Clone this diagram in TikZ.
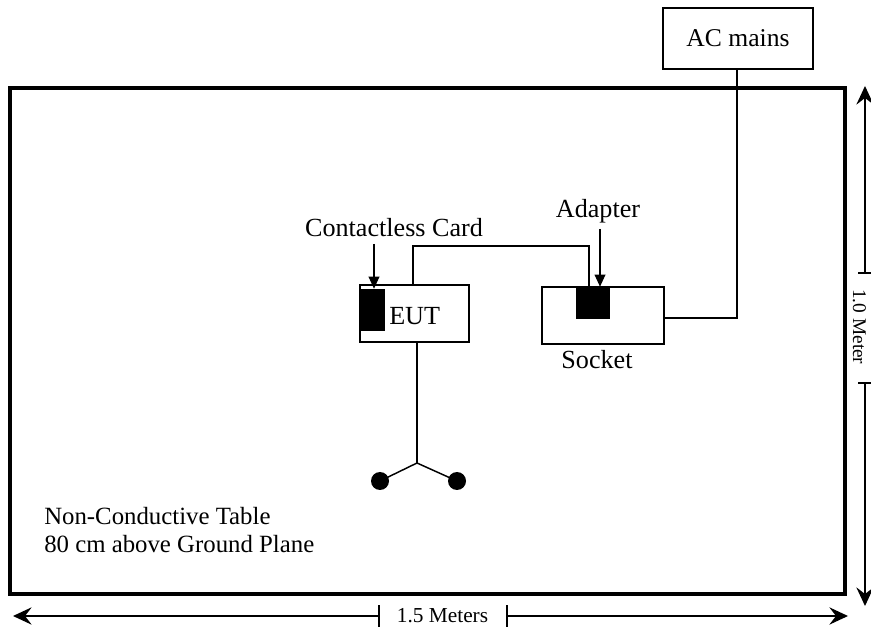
\documentclass[tikz,border=0pt]{standalone}
\usepackage{fontspec}
\setmainfont{Liberation Serif}
\usetikzlibrary{arrows.meta}
\begin{document}
\begin{tikzpicture}[x=0.75pt,y=-0.75pt,
  box/.style={draw,line width=1.2pt,inner sep=0pt},
  wire/.style={line width=1.1pt},
  blk/.style={fill=black,draw=none,inner sep=0pt},
  lbl/.style={font=\fontsize{18.6}{21}\selectfont,inner sep=0pt},
  big/.style={font=\fontsize{19.6}{22}\selectfont,inner sep=0pt},
  dimtext/.style={font=\fontsize{16}{18}\selectfont,inner sep=0pt},
  vtext/.style={font=\fontsize{14.5}{17}\selectfont,inner sep=0pt},
  ptr/.style={line width=1pt,-{Triangle[length=9pt,width=8pt]}},
  dim/.style={line width=1pt,-{Stealth[length=14pt,width=13pt,inset=5pt]}}
]
\useasboundingbox (0,0) rectangle (871,630);
% table
\draw[line width=2.4pt] (10,88) rectangle (845,594);
% AC mains
\node[box,minimum width=112.5pt,minimum height=45.75pt] (ac) at (738,38.5) {};
\node[font=\fontsize{19.2}{22}\selectfont,inner sep=0pt] at (ac.center) {AC mains};
% socket
\node[box,minimum width=91.5pt,minimum height=42.75pt] (sock) at (603,315.5) {};
\node[blk,minimum width=25.5pt,minimum height=24pt] (adp) at (593,303) {};
\node[big] (socklbl) at (597,360) {Socket};
\node[big] (adplbl) at (598,211) {Adapter};
% EUT
\node[box,minimum width=81.75pt,minimum height=42.75pt] (eut) at (414.5,313.5) {};
\node[blk,minimum width=18pt,minimum height=31.5pt] (card) at (373,310) {};
\node[big,anchor=west] (euttxt) at (389,316) {EUT};
\node[big] (cardlbl) at (394,228) {Contactless Card};
% pointers
\coordinate (adpTop) at (600,229);
\draw[ptr] (adpTop) -- (adpTop |- adp.north);
\coordinate (cardTop) at (374,244);
\draw[ptr] (cardTop) -- (cardTop |- card.north);
% wires
\coordinate (acb) at (737,69);
\draw[wire] (acb) -- (737,318) -- (sock.east |- 0,318);
\coordinate (w1) at (589,246);
\draw[wire] (589,287) -- (w1) -- (413,246) -- (413,285);
% probe
\coordinate (pj) at (417,463);
\draw[wire] (417,342) -- (pj);
\node[circle,fill=black,minimum size=13.5pt,inner sep=0pt] (p1) at (380,481) {};
\node[circle,fill=black,minimum size=13.5pt,inner sep=0pt] (p2) at (457,481) {};
\draw[wire] (pj) -- (p1.center);
\draw[wire] (pj) -- (p2.center);
% table text
\node[lbl,anchor=west] at (44,516) {Non-Conductive Table};
\node[lbl,anchor=west] at (44,544) {80 cm above Ground Plane};
% horizontal dimension
\coordinate (hl) at (13,616);
\coordinate (hr) at (848,616);
\coordinate (ht1) at (379,616);
\coordinate (ht2) at (507,616);
\draw[dim] (ht1) -- (hl);
\draw[dim] (ht2) -- (hr);
\node[dimtext] (htxt) at (442.5,616) {1.5 Meters};
\draw[line width=1pt] (379,605) -- (379,627);
\draw[line width=1pt] (507,605) -- (507,627);
% vertical dimension
\coordinate (vt) at (865,86);
\coordinate (vb) at (865,606);
\coordinate (vt1) at (865,273);
\coordinate (vt2) at (865,383);
\draw[dim] (vt1) -- (vt);
\draw[dim] (vt2) -- (vb);
\node[vtext,rotate=-90,anchor=base west] (vtxt) at (853,289) {1.0 Meter};
\draw[line width=1pt] (858,273) -- (871,273);
\draw[line width=1pt] (858,383) -- (871,383);
\end{tikzpicture}
\end{document}
